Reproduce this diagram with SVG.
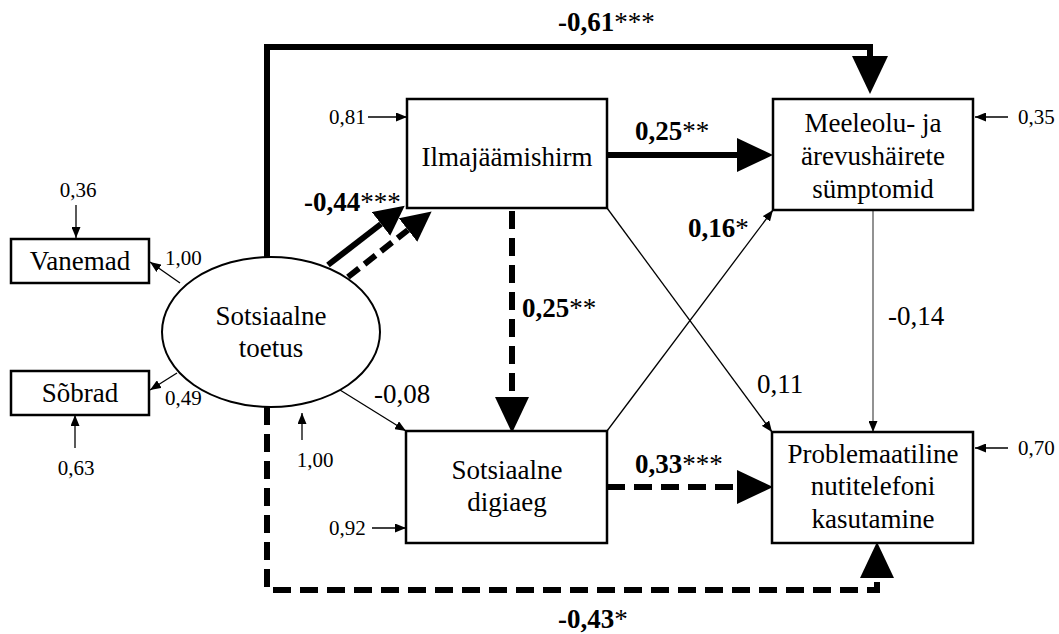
<svg xmlns="http://www.w3.org/2000/svg" width="1059" height="634" viewBox="0 0 1059 634">
<style>
text{font-family:'Liberation Serif','Times New Roman',Tinos,'DejaVu Serif',serif}
.box{fill:#fff;stroke:#000;stroke-width:2.5}
.nt{font-size:27px;fill:#000;text-anchor:middle}
.sm{font-size:21px;fill:#000}
.el{font-size:27px;fill:#000}
.b{font-weight:bold}
.thick{fill:none;stroke:#000;stroke-width:6}
.dash{fill:none;stroke:#000;stroke-width:6;stroke-dasharray:18 9}
.thin{fill:none;stroke:#000;stroke-width:1.3}
</style>
<defs>
<marker id="big" viewBox="0 0 36 34" refX="0" refY="17" markerWidth="36" markerHeight="34" markerUnits="userSpaceOnUse" orient="auto"><path d="M0,0 L36,17 L0,34 z" fill="#000"/></marker>
<marker id="top" viewBox="0 0 38 36" refX="0" refY="18" markerWidth="38" markerHeight="36" markerUnits="userSpaceOnUse" orient="auto"><path d="M0,0 L38,18 L0,36 z" fill="#000"/></marker>
<marker id="mid" viewBox="0 0 30 30" refX="0" refY="15" markerWidth="30" markerHeight="30" markerUnits="userSpaceOnUse" orient="auto"><path d="M0,0 L30,15 L0,30 z" fill="#000"/></marker>
<marker id="sm" viewBox="0 0 11 9" refX="11" refY="4.5" markerWidth="11" markerHeight="9" markerUnits="userSpaceOnUse" orient="auto"><path d="M0,0 L11,4.5 L0,9 z" fill="#000"/></marker>
</defs>

<g id="connectors">
<path class="thick" d="M267,258 V47 H870 V56" marker-end="url(#top)"/>
<path class="dash" d="M267,407 V590 H877 V578" marker-end="url(#big)"/>
<path class="thick" d="M607,155 H737" marker-end="url(#big)"/>
<path class="dash" d="M512,211 V397" marker-end="url(#big)"/>
<path class="dash" d="M607,487 H737" marker-end="url(#big)"/>
<path class="thick" d="M328,265 L381,224" marker-end="url(#mid)"/>
<path class="dash" style="stroke-dasharray:14 7" d="M348,277 L408,230" marker-end="url(#mid)"/>
<path class="thin" d="M607,208 L772,432" marker-end="url(#sm)"/>
<path class="thin" d="M607,431 L773,210" marker-end="url(#sm)"/>
<path class="thin" style="stroke:#777;stroke-width:1.6" d="M873,210 V432" marker-end="url(#sm)"/>
<path class="thin" d="M340,390 L406,431" marker-end="url(#sm)"/>
<path class="thin" d="M180,283 L150,262" marker-end="url(#sm)"/>
<path class="thin" d="M177,373 L150,390" marker-end="url(#sm)"/>
<path class="thin" d="M76,205 V238" marker-end="url(#sm)"/>
<path class="thin" d="M75,448 V415" marker-end="url(#sm)"/>
<path class="thin" d="M302,440 V413" marker-end="url(#sm)"/>
<path class="thin" d="M368,117 H407" marker-end="url(#sm)"/>
<path class="thin" d="M372,528 H406" marker-end="url(#sm)"/>
<path class="thin" d="M1008,117 H975" marker-end="url(#sm)"/>
<path class="thin" d="M1008,448 H975" marker-end="url(#sm)"/>
</g>

<g id="edge-labels">
<text class="el" x="558" y="31"><tspan class="b">-0,61</tspan>***</text>
<text class="el" x="304" y="211"><tspan class="b">-0,44</tspan>***</text>
<text class="el" x="635" y="140"><tspan class="b">0,25</tspan>**</text>
<text class="el" x="522" y="317"><tspan class="b">0,25</tspan>**</text>
<text class="el" x="688" y="237"><tspan class="b">0,16</tspan>*</text>
<text class="el" x="757" y="393">0,11</text>
<text class="el" x="888" y="325">-0,14</text>
<text class="el" x="374" y="403">-0,08</text>
<text class="el" x="635" y="473"><tspan class="b">0,33</tspan>***</text>
<text class="el" x="558" y="628"><tspan class="b">-0,43</tspan>*</text>
<text class="sm" x="78" y="197" text-anchor="middle">0,36</text>
<text class="sm" x="76" y="475" text-anchor="middle">0,63</text>
<text class="sm" x="165" y="265">1,00</text>
<text class="sm" x="165" y="405">0,49</text>
<text class="sm" x="315" y="467" text-anchor="middle">1,00</text>
<text class="sm" x="329" y="124">0,81</text>
<text class="sm" x="329" y="535">0,92</text>
<text class="sm" x="1018" y="124">0,35</text>
<text class="sm" x="1018" y="455">0,70</text>
</g>

<g id="vanemad">
<rect class="box" x="11" y="239" width="138" height="44"/>
<text class="nt" x="80" y="270">Vanemad</text>
</g>
<g id="sobrad">
<rect class="box" x="11" y="371" width="138" height="44"/>
<text class="nt" x="80" y="402">Sõbrad</text>
</g>
<g id="sotsiaalne-toetus">
<ellipse cx="271" cy="332" rx="109" ry="75" fill="#fff" stroke="#000" stroke-width="2"/>
<text class="nt" x="271" y="325">Sotsiaalne</text>
<text class="nt" x="271" y="357">toetus</text>
</g>
<g id="ilmajaamishirm">
<rect class="box" x="407" y="99" width="200" height="109"/>
<text class="nt" x="507" y="166">Ilmajäämishirm</text>
</g>
<g id="meeleolu">
<rect class="box" x="773" y="99" width="200" height="111"/>
<text class="nt" x="873" y="132">Meeleolu- ja</text>
<text class="nt" x="873" y="165">ärevushäirete</text>
<text class="nt" x="873" y="198">sümptomid</text>
</g>
<g id="digiaeg">
<rect class="box" x="406" y="431" width="201" height="112"/>
<text class="nt" x="507" y="479">Sotsiaalne</text>
<text class="nt" x="507" y="511">digiaeg</text>
</g>
<g id="problemaatiline">
<rect class="box" x="772" y="432" width="201" height="111"/>
<text class="nt" x="873" y="463">Problemaatiline</text>
<text class="nt" x="873" y="495">nutitelefoni</text>
<text class="nt" x="873" y="528">kasutamine</text>
</g>
</svg>
